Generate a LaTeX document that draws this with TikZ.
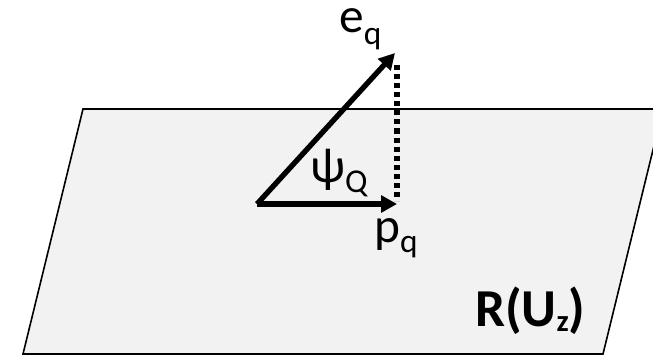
\documentclass[tikz,border=0pt]{standalone}
\usepackage{fontspec}
\setmainfont{Carlito}
\usetikzlibrary{arrows.meta}
\definecolor{planefill}{HTML}{F2F2F2}
\newcommand{\lowidx}[2]{\raisebox{#1}{\fontsize{25}{25}\selectfont #2}}

\begin{document}
\begin{tikzpicture}[x=0.75pt, y=-0.75pt,
  vec/.style={line width=4pt, -{Triangle[length=12pt,width=12.5pt]}},
  proj/.style={line width=4pt, dash pattern=on 3.8pt off 3pt},
  lbl/.style={inner sep=0pt, anchor=base west, font=\fontsize{37}{37}\selectfont}]
\useasboundingbox (0,0) rectangle (653,356);
\begin{scope}
\clip (0,0) rectangle (653,356);
\draw[line width=1.2pt, fill=planefill] (83,109) -- (663,109) -- (603,354) -- (23,354) -- cycle;
\end{scope}
\coordinate (o) at (257,204);
\coordinate (e) at (395,53);
\coordinate (p) at (397,204);
\coordinate (etop) at (397,65);
\coordinate (pbot) at (397,201);
\draw[vec] (o) -- (e);
\draw[vec] (o) -- (p);
\draw[proj] (etop) -- (pbot);
\node[lbl] (eq) at (339,33) {e\lowidx{-9pt}{q}};
\node[lbl] (psi) at (310,182) {ψ\lowidx{-7.5pt}{Q}};
\node[lbl] (pq) at (374,242) {p\lowidx{-8pt}{q}};
\node[lbl, font=\fontsize{40}{40}\selectfont\bfseries] (region) at (475,326)
  {R(U\raisebox{-4pt}{\fontsize{23}{23}\selectfont\bfseries z})};
\end{tikzpicture}
\end{document}
